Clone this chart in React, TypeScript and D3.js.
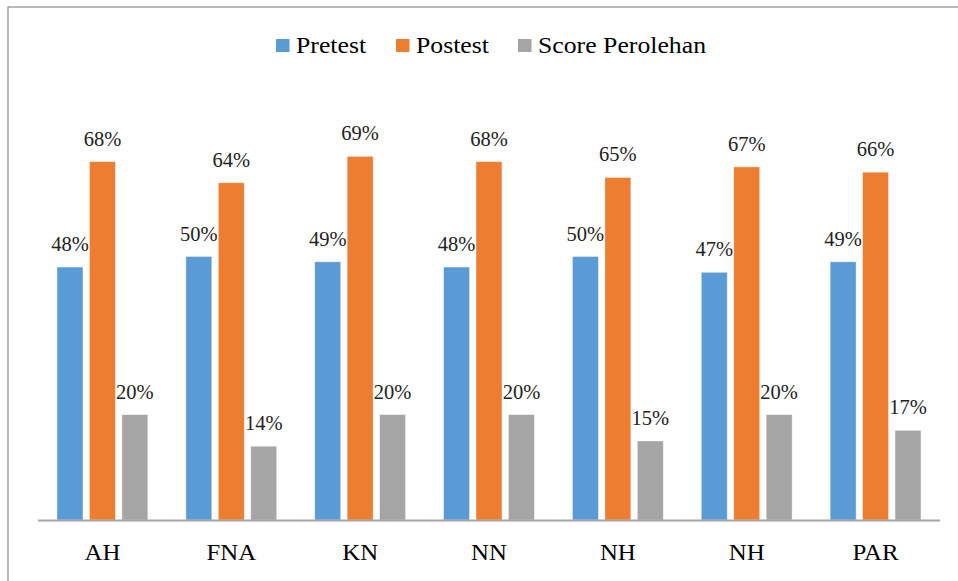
import React from "react";
import * as d3 from "d3";

const categories = ["AH", "FNA", "KN", "NN", "NH", "NH", "PAR"];
const seriesNames = ["Pretest", "Postest", "Score Perolehan"];
const pretest = [0.48, 0.50, 0.49, 0.48, 0.50, 0.47, 0.49];
const postest = [0.68, 0.64, 0.69, 0.68, 0.65, 0.67, 0.66];
const perolehan = [0.20, 0.14, 0.20, 0.20, 0.15, 0.20, 0.17];
const colors = ["#5B9BD5", "#ED7D31", "#A5A5A5"];

const W = 958;
const H = 581;
const FONT = "Liberation Serif";

export default function App() {
  const series = [pretest, postest, perolehan];
  const keys = categories.map((c, i) => `${c}-${i}`);
  const x = d3.scaleBand<string>().domain(keys).range([38, 940]).padding(0);
  const inner = d3
    .scaleBand<string>()
    .domain(seriesNames)
    .range([x.bandwidth() * 0.1475, x.bandwidth() * (1 - 0.1475)])
    .paddingInner(0.2);
  const y = d3.scaleLinear().domain([0, 0.8]).range([520, 98.4]);
  const fmt = d3.format(".0%");

  const legendItems = [
    { name: seriesNames[0], x: 276, color: colors[0] },
    { name: seriesNames[1], x: 396, color: colors[1] },
    { name: seriesNames[2], x: 518, color: colors[2] },
  ];

  const bars: { key: string; x: number; y: number; w: number; h: number; c: string; v: number }[] = [];
  keys.forEach((k, ci) => {
    series.forEach((vals, si) => {
      const v = vals[ci];
      bars.push({
        key: `${k}-${si}`,
        x: x(k)! + inner(seriesNames[si])!,
        y: y(v),
        w: inner.bandwidth(),
        h: y(0) - y(v),
        c: colors[si],
        v,
      });
    });
  });

  return (
    <svg
      width={W}
      height={H}
      fontFamily={FONT}
      style={{ position: "absolute", left: 0, top: 0, background: "#fff", fontFamily: FONT }}
    >
      <rect x={8} y={7} width={W + 20} height={H + 20} fill="#fff" stroke="#8a8a8a" strokeWidth={1.2} />
      {bars.map((b) => (
        <rect
          key={b.key}
          x={b.x}
          y={b.y}
          width={b.w}
          height={b.h}
          fill={b.c}
          stroke="#ffffff"
          strokeOpacity={0.5}
          strokeWidth={0.8}
        />
      ))}
      <line x1={38} x2={940} y1={520.5} y2={520.5} stroke="#A6A6A6" strokeWidth={2} />
      {legendItems.map((l) => (
        <rect key={l.name + "-sw"} x={l.x} y={39} width={13.5} height={13} fill={l.color} />
      ))}
      {legendItems.map((l) => (
        <text
          key={l.name}
          transform={`translate(${l.x + 20},53) scale(1.12,1)`}
          fontFamily={FONT}
          fontSize={23}
          style={{ fontFamily: FONT }}
          fill="#000"
        >
          {l.name}
        </text>
      ))}
      {bars.map((b) => (
        <text
          key={b.key + "-lbl"}
          x={b.x + b.w / 2}
          y={b.y - 16}
          textAnchor="middle"
          fontFamily={FONT}
          fontSize={20.5}
          style={{ fontFamily: FONT }}
          fill="#222"
        >
          {fmt(b.v)}
        </text>
      ))}
      {keys.map((k, ci) => (
        <text
          key={k + "-cat"}
          transform={`translate(${x(k)! + x.bandwidth() / 2},560) scale(1.08,1)`}
          textAnchor="middle"
          fontFamily={FONT}
          fontSize={23}
          style={{ fontFamily: FONT }}
          fill="#000"
        >
          {categories[ci]}
        </text>
      ))}
    </svg>
  );
}
